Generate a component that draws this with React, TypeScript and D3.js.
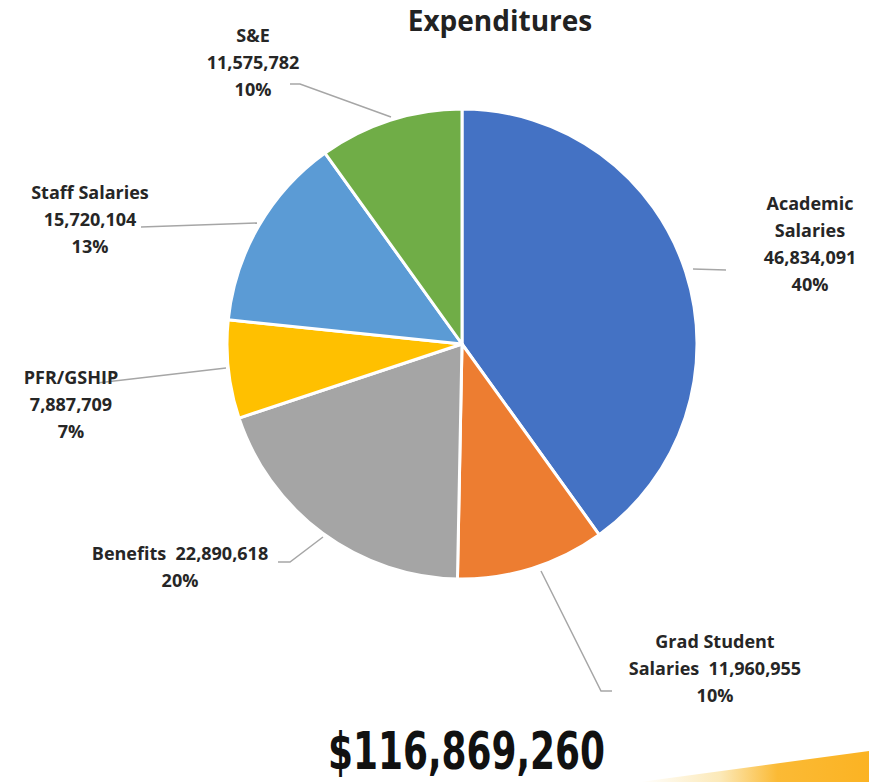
import React from "react";
import * as d3 from "d3";

const categories = ["Academic Salaries", "Grad Student Salaries", "Benefits", "PFR/GSHIP", "Staff Salaries", "S&E"];
const values = [46834091, 11960955, 22890618, 7887709, 15720104, 11575782];
const percents = ["40%", "10%", "20%", "7%", "13%", "10%"];
const colors = ["#4472C4", "#ED7D31", "#A5A5A5", "#FFC000", "#5B9BD5", "#70AD47"];
const labelLines = [
  ["Academic", "Salaries", "46,834,091", "40%"],
  ["Grad Student", "Salaries  11,960,955", "10%"],
  ["Benefits  22,890,618", "20%"],
  ["PFR/GSHIP", "7,887,709", "7%"],
  ["Staff Salaries", "15,720,104", "13%"],
  ["S&E", "11,575,782", "10%"],
];
const title = "Expenditures";
const totalLabel = "$116,869,260";

const W = 869, H = 782;
const cx = 462, cy = 344, R = 235;

// label placement (center x, first line y) and leader line points
const labelPos: [number, number][] = [
  [810, 210],
  [715, 648],
  [180, 560],
  [71, 384],
  [90, 199],
  [253, 42],
];
const leaders: [number, number][][] = [
  [[693, 269], [726, 270]],
  [[541, 571], [601, 691], [612, 691]],
  [[278, 562], [290, 562], [323, 537]],
  [[97, 383], [226, 368]],
  [[141, 227], [257, 223]],
  [[290, 84], [300, 84], [391, 117]],
];

export default function App() {
  const pie = d3.pie<number>().sort(null).value((d) => d);
  const arcs = pie(values);
  const arc = d3.arc<d3.PieArcDatum<number>>().innerRadius(0).outerRadius(R);
  const line = d3.line();
  const lh = 27;
  return (
    <svg width={W} height={H} style={{ position: "absolute", left: 0, top: 0, background: "#fff" }}>
      <defs>
        <linearGradient id="sw" x1="0" y1="0" x2="1" y2="0">
          <stop offset="0" stopColor="#FFFFFF" />
          <stop offset="0.35" stopColor="#FCE9B8" />
          <stop offset="0.6" stopColor="#FBBA35" />
          <stop offset="1" stopColor="#FBB323" />
        </linearGradient>
      </defs>
      <rect x={0} y={0} width={W} height={H} fill="#fff" />
      <polygon points={`${640},${782} ${869},${751} ${869},${782}`} fill="url(#sw)" />
      <text x={500} y={31} textAnchor="middle" fontFamily="Open Sans" fontWeight={700} fontSize={28} fill="#222">
        {title}
      </text>
      <g transform={`translate(${cx},${cy})`}>
        {arcs.map((a, i) => (
          <path key={categories[i]} d={arc(a) || ""} fill={colors[i]} stroke="#fff" strokeWidth={3} strokeLinejoin="round" />
        ))}
      </g>
      {leaders.map((pts, i) => (
        <path key={"l" + i} d={line(pts) || ""} fill="none" stroke="#A6A6A6" strokeWidth={1.5} />
      ))}
      {labelLines.map((lines, i) => (
        <text key={"t" + i} textAnchor="middle" fontFamily="Open Sans" fontWeight={700} fontSize={18} fill="#262626">
          {lines.map((s, j) => (
            <tspan key={j} x={labelPos[i][0]} y={labelPos[i][1] + j * lh} style={{ whiteSpace: "pre" }}>
              {s}
            </tspan>
          ))}
        </text>
      ))}
      <text x={328} y={769} fontFamily="DejaVu Sans" fontStretch="condensed" fontWeight={700} fontSize={52}
        textLength={277} lengthAdjust="spacingAndGlyphs" fill="#111">
        {totalLabel}
      </text>
    </svg>
  );
}
